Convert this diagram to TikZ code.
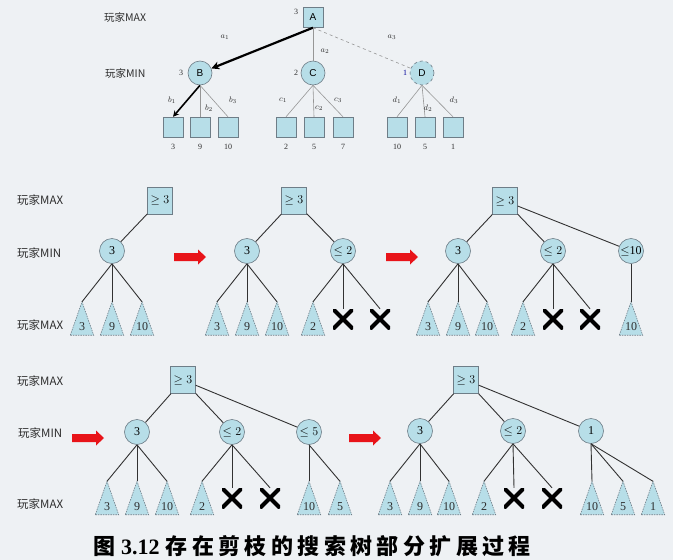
\documentclass[tikz,border=0pt]{standalone}
\usepackage{fontspec}
\setmainfont{Liberation Serif}
\newfontfamily\cjk{Noto Sans CJK SC}
\newfontfamily\cjkcap[LetterSpace=20]{Noto Sans CJK SC}
\newfontfamily\lsans{Liberation Sans}
\usetikzlibrary{arrows.meta}
\definecolor{bg}{RGB}{238,241,244}
\definecolor{nodeblue}{RGB}{183,222,232}
\definecolor{bordergray}{RGB}{110,125,135}
\definecolor{edgegray}{RGB}{50,50,50}
\definecolor{lightedge}{RGB}{150,150,150}
\definecolor{arrred}{RGB}{232,20,25}
\definecolor{txt}{RGB}{45,45,45}
\tikzset{
  x=1pt, y=-1pt,
  lab/.style={font=\cjk\fontsize{11.5}{13}\selectfont, text=txt, anchor=west, inner sep=0},
  tlab/.style={font=\cjk\fontsize{10.5}{12}\selectfont, text=txt, anchor=west, inner sep=0},
  sq/.style={draw=bordergray, fill=nodeblue, minimum size=20pt, inner sep=0, font=\lsans\fontsize{10}{10}\selectfont},
  topc/.style={circle, draw=bordergray, line width=0.6pt, fill=nodeblue, minimum size=24pt, inner sep=0, font=\lsans\fontsize{10}{10}\selectfont},
  val/.style={font=\fontsize{8}{8}\selectfont, text=txt, inner sep=0},
  elab/.style={font=\fontsize{8}{8}\selectfont, text=txt, inner sep=0},
  thinedge/.style={draw=lightedge, line width=0.6pt},
  maxbox/.style={draw=bordergray, fill=nodeblue, minimum width=25pt, minimum height=27pt, inner sep=0, font=\fontsize{12}{12}\selectfont},
  minc/.style={circle, draw=bordergray, line width=0.6pt, fill=nodeblue, minimum size=25pt, inner sep=0, font=\fontsize{12}{12}\selectfont},
  trib/.style={minimum width=23pt, minimum height=33pt, inner sep=0},
  tridraw/.style={fill=nodeblue, draw=bordergray, dashed, dash pattern=on 1.5pt off 1pt, line width=0.6pt},
  trilab/.style={font=\fontsize{12}{12}\selectfont, text=txt, inner sep=0},
  xnode/.style={minimum size=20pt, inner sep=0, path picture={\draw[line width=4pt, black]
     (path picture bounding box.north west) -- (path picture bounding box.south east)
     (path picture bounding box.north east) -- (path picture bounding box.south west);}},
  edge/.style={draw=edgegray, line width=0.9pt},
}
\newcommand\trinode[4]{%
  \node[trib] (#1) at (#2,#3) {};
  \draw[tridraw] (#1.south west) -- (#1.north) -- (#1.south east) -- cycle;
  \node[trilab] (#1l) at ([yshift=8.5pt]#1.south) {#4};}
\newcommand\redarr[2]{%
  \fill[arrred] (#1,#2) ++(-16,-4) -- ++(24,0) -- ++(0,-3.5) -- ++(8,7.5) -- ++(-8,7.5) -- ++(0,-3.5) -- ++(-24,0) -- cycle;}
\begin{document}
\begin{tikzpicture}
\fill[bg] (0,0) rectangle (673,560);
\useasboundingbox (0,0) rectangle (673,560);

% ---------- top tree ----------
\node[tlab] (l1) at (104,17) {玩家MAX};
\node[tlab] (l2) at (105,73) {玩家MIN};
\node[sq] (A) at (313,17.5) {A};
\node[topc] (B) at (200,73) {B};
\node[topc] (C) at (313,73) {C};
\node[topc, dashed] (D) at (422,73) {D};
\node[val] (vA) at (296,12) {3};
\node[val] (vB) at (181,73) {3};
\node[val] (vC) at (296,73) {2};
\node[val, text=blue!60!black] (vD) at (405,73) {1};
\foreach \n/\x/\v in {b1/173/3, b2/200/9, b3/228/10, c1/286/2, c2/314/5, c3/343/7, d1/397/10, d2/425/5, d3/453/1}{
  \node[sq] (\n) at (\x,127) {};
  \node[val] (\n v) at (\x,147) {\v};
}
\draw[line width=2.2pt, -{Stealth[length=8pt,width=8pt]}] (A.south) -- (B);
\draw[thinedge] (A.south) -- (C);
\draw[thinedge, dashed] (A.south) -- (D);
\draw[line width=1.6pt, -{Stealth[length=6pt,width=6pt]}] (B.south) -- (b1.north);
\draw[thinedge] (B.south) -- (b2.north);
\draw[thinedge] (B.south) -- (b3.north);
\foreach \n in {c1,c2,c3}{\draw[thinedge] (C.south) -- (\n.north);}
\foreach \n in {d1,d2,d3}{\draw[thinedge] (D.south) -- (\n.north);}
\node[elab] (ea1) at (225,37) {$a_1$};
\node[elab] (ea2) at (325,51) {$a_2$};
\node[elab] (ea3) at (392,37) {$a_3$};
\node[elab] (eb1) at (172,100) {$b_1$};
\node[elab] (eb2) at (209,108) {$b_2$};
\node[elab] (eb3) at (233,100) {$b_3$};
\node[elab] (ec1) at (283,100) {$c_1$};
\node[elab] (ec2) at (319,108) {$c_2$};
\node[elab] (ec3) at (338,100) {$c_3$};
\node[elab] (ed1) at (397,100) {$d_1$};
\node[elab] (ed2) at (428,108) {$d_2$};
\node[elab] (ed3) at (454,100) {$d_3$};

% ---------- row 2 ----------
\node[lab] (m1) at (17,200) {玩家MAX};
\node[lab] (m2) at (17,253) {玩家MIN};
\node[lab] (m3) at (17,325) {玩家MAX};
% tree 1
\node[maxbox] (p1) at (160,200.5) {$\geq 3$};
\node[minc] (p1a) at (112,251) {3};
\trinode{p1t1}{82}{318.5}{3}
\trinode{p1t2}{112}{318.5}{9}
\trinode{p1t3}{142}{318.5}{10}
\draw[edge] (p1) -- (p1a);
\foreach \t in {p1t1,p1t2,p1t3}{\draw[edge] (p1a.south) -- (\t.north);}
\redarr{190}{257}
% tree 2
\node[maxbox] (p2) at (294,200.5) {$\geq 3$};
\node[minc] (p2a) at (247,251) {3};
\node[minc] (p2b) at (343,251) {$\leq 2$};
\trinode{p2t1}{217}{318.5}{3}
\trinode{p2t2}{247}{318.5}{9}
\trinode{p2t3}{277}{318.5}{10}
\trinode{p2t4}{313}{318.5}{2}
\node[xnode] (p2x1) at (343,319) {};
\node[xnode] (p2x2) at (380,319) {};
\draw[edge] (p2) -- (p2a);
\draw[edge] (p2) -- (p2b);
\foreach \t in {p2t1,p2t2,p2t3}{\draw[edge] (p2a.south) -- (\t.north);}
\foreach \t in {p2t4,p2x1,p2x2}{\draw[edge] (p2b.south) -- (\t.north);}
\redarr{402}{257}
% tree 3
\node[maxbox] (p3) at (505,201) {$\geq 3$};
\node[minc] (p3a) at (458,251) {3};
\node[minc] (p3b) at (553,251) {$\leq 2$};
\node[minc] (p3c) at (631,251) {$\leq$10};
\trinode{p3t1}{428}{318.5}{3}
\trinode{p3t2}{458}{318.5}{9}
\trinode{p3t3}{487}{318.5}{10}
\trinode{p3t4}{523}{318.5}{2}
\node[xnode] (p3x1) at (553,319) {};
\node[xnode] (p3x2) at (590,319) {};
\trinode{p3t5}{631}{318.5}{10}
\draw[edge] (p3) -- (p3a);
\draw[edge] (p3) -- (p3b);
\draw[edge] (p3) -- (p3c);
\foreach \t in {p3t1,p3t2,p3t3}{\draw[edge] (p3a.south) -- (\t.north);}
\foreach \t in {p3t4,p3x1,p3x2}{\draw[edge] (p3b.south) -- (\t.north);}
\draw[edge] (p3c.south) -- (p3t5.north);

% ---------- row 3 ----------
\node[lab] (n1) at (17,381) {玩家MAX};
\node[lab] (n2) at (18,433) {玩家MIN};
\node[lab] (n3) at (17,504) {玩家MAX};
\redarr{88}{438}
% tree 4
\node[maxbox] (q1) at (183,380) {$\geq 3$};
\node[minc] (q1a) at (137,432) {3};
\node[minc] (q1b) at (232,432) {$\leq 2$};
\node[minc] (q1c) at (309,432) {$\leq 5$};
\trinode{q1t1}{107}{498}{3}
\trinode{q1t2}{137}{498}{9}
\trinode{q1t3}{167}{498}{10}
\trinode{q1t4}{202}{498}{2}
\node[xnode] (q1x1) at (232,498) {};
\node[xnode] (q1x2) at (270,498) {};
\trinode{q1t5}{309}{498}{10}
\trinode{q1t6}{340}{498}{5}
\draw[edge] (q1) -- (q1a);
\draw[edge] (q1) -- (q1b);
\draw[edge] (q1) -- (q1c);
\foreach \t in {q1t1,q1t2,q1t3}{\draw[edge] (q1a.south) -- (\t.north);}
\foreach \t in {q1t4,q1x1,q1x2}{\draw[edge] (q1b.south) -- (\t.north);}
\foreach \t in {q1t5,q1t6}{\draw[edge] (q1c.south) -- (\t.north);}
\redarr{365}{438}
% tree 5
\node[maxbox] (q2) at (466,380) {$\geq 3$};
\node[minc] (q2a) at (420,431) {3};
\node[minc] (q2b) at (513,431) {$\leq 2$};
\node[minc] (q2c) at (591,431) {1};
\trinode{q2t1}{390}{498}{3}
\trinode{q2t2}{420}{498}{9}
\trinode{q2t3}{449}{498}{10}
\trinode{q2t4}{484}{498}{2}
\node[xnode] (q2x1) at (514,498) {};
\node[xnode] (q2x2) at (552,498) {};
\trinode{q2t5}{592}{498}{10}
\trinode{q2t6}{623}{498}{5}
\trinode{q2t7}{653}{498}{1}
\draw[edge] (q2) -- (q2a);
\draw[edge] (q2) -- (q2b);
\draw[edge] (q2) -- (q2c);
\foreach \t in {q2t1,q2t2,q2t3}{\draw[edge] (q2a.south) -- (\t.north);}
\foreach \t in {q2t4,q2x1,q2x2}{\draw[edge] (q2b.south) -- (\t.north);}
\foreach \t in {q2t5,q2t6,q2t7}{\draw[edge] (q2c.south) -- (\t.north);}

% ---------- caption ----------
\node[anchor=west, inner sep=0, text=black, font=\fontsize{22}{24}\selectfont\bfseries] (cap) at (93,546)
  {{\cjk 图}\hspace{6pt}3.12\hspace{6pt}{\cjkcap 存在剪枝的搜索树部分扩展过程}};
\end{tikzpicture}
\end{document}
